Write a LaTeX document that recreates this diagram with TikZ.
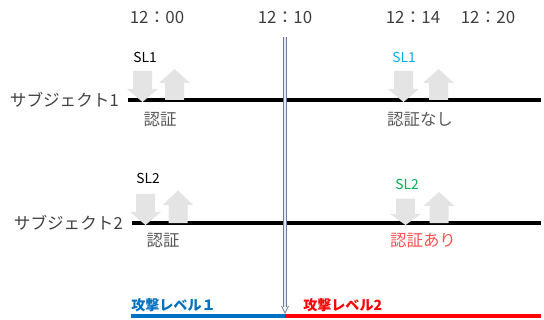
\documentclass[tikz,border=0pt]{standalone}
\usepackage{fontspec}
\setmainfont{Noto Sans CJK JP}
\usetikzlibrary{arrows.meta, positioning, calc}
\definecolor{arrowgray}{HTML}{E4E4E4}
\definecolor{textdark}{HTML}{404040}
\definecolor{textgray}{HTML}{595959}
\definecolor{slcyan}{HTML}{00B0F0}
\definecolor{slgreen}{HTML}{00B050}
\definecolor{okred}{HTML}{FF5050}
\definecolor{lvblue}{HTML}{0070C0}
\definecolor{lvred}{HTML}{FF0000}
\definecolor{nowline}{HTML}{6A7B96}
\definecolor{nowfill}{HTML}{E6EAF0}
\tikzset{
  timelabel/.style={font=\fontsize{12}{14}\selectfont, text=textdark, inner sep=0pt},
  subject/.style={font=\fontsize{11.8}{14}\selectfont, text=textdark, inner sep=0pt, anchor=east},
  sllabel/.style={font=\fontsize{9.8}{12}\selectfont, text=black, inner sep=0pt},
  authlabel/.style={font=\fontsize{11.7}{14}\selectfont, text=textgray, inner sep=0pt},
  levellabel/.style={font=\fontsize{10}{12}\selectfont\bfseries, inner sep=0pt, anchor=west},
  timeline/.style={draw=black, line width=2.9pt},
  levelline/.style={line width=2.9pt},
  downblock/.pic={\fill[arrowgray] (-9.5,-31) -- (9.5,-31) -- (9.5,-13) -- (15.5,-13)
                   -- (0,0) -- (-15.5,-13) -- (-9.5,-13) -- cycle;},
  upblock/.pic={\fill[arrowgray] (-9.5,0) -- (-9.5,-17) -- (-15.5,-17) -- (0,-31)
                 -- (15.5,-17) -- (9.5,-17) -- (9.5,0) -- cycle;},
}
\begin{document}
\begin{tikzpicture}[x=0.025cm, y=-0.025cm]
  \useasboundingbox (0,0) rectangle (544,320);

  % time marks
  \node[timelabel] (t1200) at (157,17) {12：00};
  \node[timelabel] (t1210) at (285,17) {12：10};
  \node[timelabel] (t1214) at (413,17) {12：14};
  \node[timelabel] (t1220) at (488,17) {12：20};

  % subjects
  \node[subject] (subj1) at (119,100) {サブジェクト1};
  \node[subject] (subj2) at (123,223) {サブジェクト2};
  \coordinate (s1start) at (128,100);
  \coordinate (s1end) at (541,100);
  \coordinate (s2start) at (132,223);
  \coordinate (s2end) at (541,223);
  \draw[timeline] (s1start) -- (s1end);
  \draw[timeline] (s2start) -- (s2end);

  % request / response arrows
  \pic at (142.5,102) {downblock};
  \pic at (174.5,100) {upblock};
  \pic at (403.5,102) {downblock};
  \pic at (438.5,100) {upblock};
  \pic at (145.5,225) {downblock};
  \pic[yscale=1.05] at (178,223) {upblock};
  \pic[yscale=0.85] at (405.5,225) {downblock};
  \pic at (439,223) {upblock};

  % labels
  \node[sllabel] (sl1a) at (145,57) {SL1};
  \node[sllabel, text=slcyan] (sl1b) at (404,57) {SL1};
  \node[sllabel] (sl2a) at (148,178) {SL2};
  \node[sllabel, text=slgreen] (sl2b) at (407,184) {SL2};
  \node[authlabel] (auth1a) at (160,120) {認証};
  \node[authlabel] (auth1b) at (420,120) {認証なし};
  \node[authlabel] (auth2a) at (163,241) {認証};
  \node[authlabel, text=okred] (auth2b) at (423,241) {認証あり};

  % attack levels
  \coordinate (lvstart) at (131,316);
  \coordinate (lvswitch) at (285,316);
  \coordinate (lvend) at (541,316);
  \draw[levelline, lvblue] (lvstart) -- (lvswitch);
  \draw[levelline, lvred] (lvswitch) -- (lvend);
  \node[levellabel, text=lvblue] (lv1) at (131,305) {攻撃レベル１};
  \node[levellabel, text=lvred] (lv2) at (303,305) {攻撃レベル2};

  % current time
  \coordinate (nowtop) at (285,37);
  \coordinate (nowtip) at (285,313);
  \draw[draw=nowline, line width=0.8pt, double=nowfill, double distance=1.8pt]
    (nowtop) -- ($(nowtip)+(0,-6)$);
  \draw[nowline, line width=0.6pt] ($(nowtip)+(-3.5,-7)$) -- (nowtip) -- ($(nowtip)+(3.5,-7)$);
\end{tikzpicture}
\end{document}
